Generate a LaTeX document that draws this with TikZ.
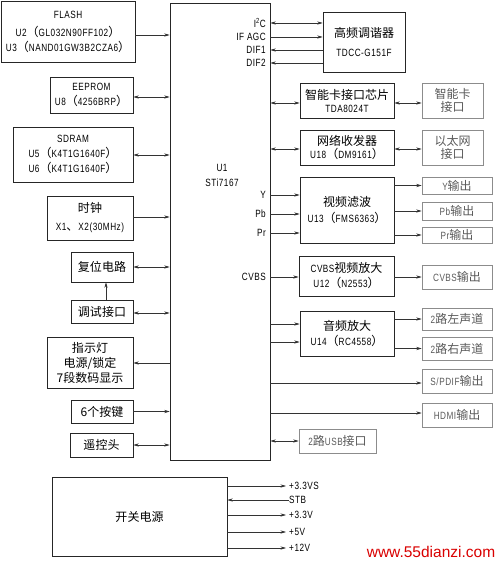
\documentclass[tikz,border=0pt]{standalone}
\usepackage{fontspec}
\setmainfont{Liberation Sans}[FakeStretch=0.78, LetterSpace=5]
\newfontfamily\zhfont{Noto Sans CJK SC}[Scale=1.143]
\newfontfamily\wmfont{Liberation Sans}
\newcommand{\zh}[1]{{\zhfont #1}}
\usetikzlibrary{arrows.meta, positioning, calc}

\begin{document}
\begin{tikzpicture}[
    % --- Global styles ---
    x=1pt, y=-1pt,
    >={Stealth[length=5.5pt,width=3.2pt]},
    every node/.style={font=\fontsize{10.5}{15}\selectfont, inner sep=0pt, align=center},
    sz/.style 2 args={minimum width=#1pt, minimum height=#2pt},
    % --- Boxes ---
    blk/.style={draw=black!85, line width=0.6pt},
    outbox/.style={draw=black!45, line width=0.6pt, text=black!65},
    % --- Pin and rail labels ---
    pin/.style={anchor=east},
    rail/.style={anchor=west},
    % --- Arrow styles ---
    sig/.style={->, line width=0.55pt, draw=black!80},
    bisig/.style={<->, line width=0.55pt, draw=black!80},
  ]
  \useasboundingbox (0,0) rectangle (500,564);

  %% ---- Main chip ----
  \node[blk, sz={100}{457}] (u1) at (220,231.5) {};
  \node (u1name) at (222,175) {U1\\STi7167};

  % Pin names inside U1
  \node[pin] (i2c) at (266,23) {I\textsuperscript{2}C};
  \node[pin] (ifagc) at (266,37) {IF AGC};
  \node[pin] (dif1) at (266,50) {DIF1};
  \node[pin] (dif2) at (266,63) {DIF2};
  \node[pin] (ypin) at (266,195) {Y};
  \node[pin] (pbpin) at (266,214) {Pb};
  \node[pin] (prpin) at (266,233) {Pr};
  \node[pin] (cvbspin) at (266,277) {CVBS};

  %% ---- Left column ----
  \node[blk, sz={134}{61}] (flash) at (68,31.5)
    {FLASH\\[3pt]U2\zh{（}GL032N90FF102\zh{）}\\U3\zh{（}NAND01GW3B2CZA6\zh{）}};
  \node[blk, sz={83}{36}] (eeprom) at (91.5,95)
    {EEPROM\\U8\zh{（}4256BRP\zh{）}};
  \node[blk, sz={120}{55}] (sdram) at (73,154.5)
    {SDRAM\\U5\zh{（}K4T1G1640F\zh{）}\\U6\zh{（}K4T1G1640F\zh{）}};
  \node[blk, sz={86}{44}] (clock) at (90,218)
    {\zh{时钟}\\[3pt]X1\zh{、}X2(30MHz)};
  \node[blk, sz={62}{30}] (reset) at (102,267) {\zh{复位电路}};
  \node[blk, sz={62}{23}] (debug) at (102,311.5) {\zh{调试接口}};
  \node[blk, sz={86}{51}] (led) at (90,362.5)
    {\zh{指示灯}\\\zh{电源/锁定}\\\zh{7段数码显示}};
  \node[blk, sz={62}{23}] (keys) at (102,411.5) {\zh{6个按键}};
  \node[blk, sz={63}{24}] (remote) at (101.5,445) {\zh{遥控头}};

  % Power supply
  \node[blk, sz={175}{79}] (psu) at (139.5,516.5) {\zh{开关电源}};

  %% ---- Right column ----
  \node[blk, sz={82}{60}] (tuner) at (364,42)
    {\zh{高频调谐器}\\[4pt]TDCC-G151F};
  \node[blk, sz={94}{35}] (card) at (347,100.5)
    {\zh{智能卡接口芯片}\\[-2pt]TDA8024T};
  \node[outbox, sz={61}{35}] (cardport) at (452.5,100.5)
    {\zh{智能卡}\\[-2pt]\zh{接口}};
  \node[blk, sz={94}{35}] (phy) at (347,147.5)
    {\zh{网络收发器}\\[-2pt]U18\zh{（}DM9161\zh{）}};
  \node[outbox, sz={61}{35}] (eth) at (452.5,147.5)
    {\zh{以太网}\\[-2pt]\zh{接口}};
  \node[blk, sz={94}{66}] (vfilter) at (347,210)
    {\zh{视频滤波}\\[1pt]U13\zh{（}FMS6363\zh{）}};
  \node[outbox, sz={70}{17}] (yout) at (457,185.5) {Y\zh{输出}};
  \node[outbox, sz={70}{18}] (pbout) at (457,211) {Pb\zh{输出}};
  \node[outbox, sz={70}{16}] (prout) at (457,235) {Pr\zh{输出}};
  \node[blk, sz={95}{40}] (cvbsamp) at (346.5,276)
    {CVBS\zh{视频放大}\\U12\zh{（}N2553\zh{）}};
  \node[outbox, sz={70}{24}] (cvbsout) at (457,277) {CVBS\zh{输出}};
  \node[blk, sz={94}{45}] (audio) at (347,333.5)
    {\zh{音频放大}\\U14\zh{（}RC4558\zh{）}};
  \node[outbox, sz={70}{22}] (lout) at (457,319) {2\zh{路左声道}};
  \node[outbox, sz={70}{23}] (rout) at (457,348.5) {2\zh{路右声道}};
  \node[outbox, sz={70}{24}] (spdif) at (457,381) {S/PDIF\zh{输出}};
  \node[outbox, sz={70}{24}] (hdmi) at (457,415) {HDMI\zh{输出}};
  \node[outbox, sz={77}{24}] (usb) at (337.5,441) {2\zh{路}USB\zh{接口}};

  % Supply rails
  \node[rail] (v33s) at (289,486) {+3.3VS};
  \node[rail] (stb) at (289,500) {STB};
  \node[rail] (v33) at (289,515) {+3.3V};
  \node[rail] (v5) at (289,532) {+5V};
  \node[rail] (v12) at (289,548) {+12V};

  % Site mark
  \node[font=\wmfont\fontsize{15.5}{18}\selectfont, text=red!85!black] (site) at (431,552)
    {www.55dianzi.com};

  %% ---- Arrows, left side ----
  \draw[sig] (flash.east |- 0,35) -- (u1.west |- 0,35);
  \draw[bisig] (eeprom.east |- 0,97) -- (u1.west |- 0,97);
  \draw[bisig] (sdram.east |- 0,155) -- (u1.west |- 0,155);
  \draw[sig] (clock.east |- 0,217) -- (u1.west |- 0,217);
  \draw[bisig] (reset.east) -- (u1.west |- reset.east);
  \draw[bisig] (debug.east |- 0,313) -- (u1.west |- 0,313);
  \draw[sig] (debug.north -| 106,0) -- (reset.south -| 106,0);
  \draw[sig] (u1.west |- 0,363) -- (led.east |- 0,363);
  \draw[sig] (keys.east) -- (u1.west |- keys.east);
  \draw[bisig] (remote.east) -- (u1.west |- remote.east);

  %% ---- Arrows, right side ----
  \draw[bisig] (u1.east |- i2c) -- (tuner.west |- i2c);
  \draw[sig] (u1.east |- ifagc) -- (tuner.west |- ifagc);
  \draw[sig] (tuner.west |- dif1) -- (u1.east |- dif1);
  \draw[sig] (tuner.west |- dif2) -- (u1.east |- dif2);
  \draw[bisig] (u1.east |- 0,103) -- (card.west |- 0,103);
  \draw[bisig] (card.east |- 0,103) -- (cardport.west |- 0,103);
  \draw[bisig] (u1.east |- 0,149) -- (phy.west |- 0,149);
  \draw[bisig] (phy.east |- 0,149) -- (eth.west |- 0,149);
  \draw[sig] (u1.east |- ypin) -- (vfilter.west |- ypin);
  \draw[sig] (u1.east |- pbpin) -- (vfilter.west |- pbpin);
  \draw[sig] (u1.east |- prpin) -- (vfilter.west |- prpin);
  \draw[sig] (vfilter.east |- yout) -- (yout.west);
  \draw[sig] (vfilter.east |- pbout) -- (pbout.west);
  \draw[sig] (vfilter.east |- prout) -- (prout.west);
  \draw[sig] (u1.east |- cvbspin) -- (cvbsamp.west |- cvbspin);
  \draw[sig] (cvbsamp.east |- cvbsout) -- (cvbsout.west);
  \draw[sig] (u1.east |- 0,324) -- (audio.west |- 0,324);
  \draw[sig] (u1.east |- 0,342) -- (audio.west |- 0,342);
  \draw[sig] (audio.east |- lout) -- (lout.west);
  \draw[sig] (audio.east |- rout) -- (rout.west);
  \draw[sig] (u1.east |- 0,383) -- (spdif.west |- 0,383);
  \draw[sig] (u1.east |- 0,413) -- (hdmi.west |- 0,413);
  \draw[bisig] (u1.east |- usb) -- (usb.west);

  %% ---- Supply outputs ----
  \draw[sig, shorten >=3pt] (psu.east |- v33s) -- (v33s.west);
  \draw[sig] (stb.west) -- (psu.east |- stb);
  \draw[sig, shorten >=3pt] (psu.east |- v33) -- (v33.west);
  \draw[sig, shorten >=3pt] (psu.east |- v5) -- (v5.west);
  \draw[sig, shorten >=3pt] (psu.east |- v12) -- (v12.west);

\end{tikzpicture}
\end{document}
